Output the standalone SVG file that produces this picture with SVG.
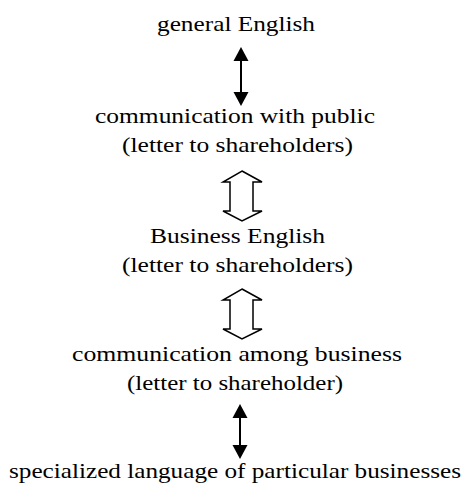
<svg xmlns="http://www.w3.org/2000/svg" width="464" height="488" viewBox="0 0 464 488">
  <style>
    text { font-family: "Liberation Serif", "DejaVu Serif", serif; font-size: 21px; fill: #000; }
    .hollow { stroke: #000; stroke-width: 1.5; fill: #fff; stroke-linejoin: miter; }
    .shaft { stroke: #000; stroke-width: 2; }
  </style>
  <defs>
    <!-- filled arrowhead pointing up, tip at origin -->
    <path id="tip" d="M0,0 L7.5,14 L-7.5,14 Z" fill="#000"/>
    <!-- open double-headed block arrow, top tip at origin -->
    <path id="block" class="hollow" d="M0,0 L20,11 L11,11 L11,40 L20,40 L0,50 L-19,40 L-12,40 L-12,11 L-19,11 Z"/>
  </defs>
  <rect width="464" height="488" fill="#fff"/>

  <g id="node-general">
    <text x="157" y="31" textLength="158" lengthAdjust="spacingAndGlyphs">general English</text>
  </g>
  <g id="node-public">
    <text x="95" y="123" textLength="280" lengthAdjust="spacingAndGlyphs">communication with public</text>
    <text x="122" y="152" textLength="231" lengthAdjust="spacingAndGlyphs">(letter to shareholders)</text>
  </g>
  <g id="node-business-english">
    <text x="150" y="243" textLength="175" lengthAdjust="spacingAndGlyphs">Business English</text>
    <text x="122" y="272" textLength="231" lengthAdjust="spacingAndGlyphs">(letter to shareholders)</text>
  </g>
  <g id="node-among-business">
    <text x="72" y="361" textLength="330" lengthAdjust="spacingAndGlyphs">communication among business</text>
    <text x="127" y="390" textLength="216" lengthAdjust="spacingAndGlyphs">(letter to shareholder)</text>
  </g>
  <g id="node-specialized">
    <text x="9" y="478" textLength="452" lengthAdjust="spacingAndGlyphs">specialized language of particular businesses</text>
  </g>

  <g id="connectors">
    <!-- general English <-> communication with public -->
    <line class="shaft" x1="241" y1="58" x2="241" y2="95"/>
    <use href="#tip" transform="translate(241,47)"/>
    <use href="#tip" transform="translate(241,106) scale(1,-1)"/>

    <!-- communication with public <=> Business English -->
    <use href="#block" transform="translate(242,171)"/>

    <!-- Business English <=> communication among business -->
    <use href="#block" transform="translate(242,289)"/>

    <!-- communication among business <-> specialized language -->
    <line class="shaft" x1="240" y1="415" x2="240" y2="448"/>
    <use href="#tip" transform="translate(240,404)"/>
    <use href="#tip" transform="translate(240,459) scale(1,-1)"/>
  </g>
</svg>
